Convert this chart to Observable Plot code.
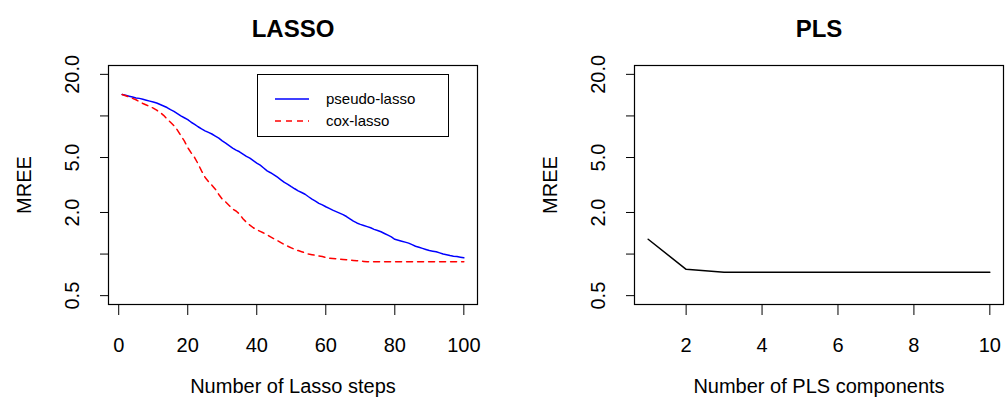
<!DOCTYPE html>
<html><head><meta charset="utf-8">
<script src="https://cdn.jsdelivr.net/npm/d3@7"></script>
<script src="https://cdn.jsdelivr.net/npm/@observablehq/plot@0.6"></script>
<style>
body{margin:0;background:#fff;font-family:"Liberation Sans",Arial,Helvetica,sans-serif;}
#wrap{position:relative;width:1005px;height:410px;overflow:hidden;background:#fff;}
#left,#right{position:absolute;top:0;}
#left{left:0;} #right{left:502px;}
#legend{position:absolute;left:257px;top:74px;width:190px;height:61px;border:1px solid #000;background:#fff;}
svg{font-family:"Liberation Sans",Arial,Helvetica,sans-serif;}
</style></head><body>
<div id="wrap"><div id="left"></div><div id="right"></div><div id="legend"></div></div>
<script>
// ---- data ----
const lassoSteps = Array.from({length: 100}, (_, i) => i + 1);
const pseudoLasso = [
  14.3,14.1,13.9,13.7,13.5,13.4,13.2,13.0,12.8,12.6,
  12.4,12.1,11.8,11.5,11.1,10.8,10.4,10.0,9.7,9.4,
  9.0,8.7,8.35,8.05,7.8,7.6,7.4,7.15,6.9,6.6,
  6.35,6.1,5.85,5.65,5.5,5.3,5.1,4.95,4.75,4.55,
  4.4,4.2,4.0,3.88,3.75,3.6,3.45,3.3,3.2,3.08,
  2.97,2.87,2.79,2.71,2.6,2.5,2.42,2.33,2.27,2.2,
  2.14,2.08,2.03,1.98,1.93,1.87,1.8,1.73,1.68,1.64,
  1.61,1.58,1.55,1.51,1.48,1.45,1.41,1.37,1.33,1.28,
  1.26,1.24,1.22,1.2,1.17,1.14,1.12,1.1,1.08,1.06,
  1.05,1.04,1.02,1.0,0.99,0.975,0.965,0.96,0.95,0.94
];
const coxLasso = [
  14.3,14.0,13.7,13.4,13.1,12.7,12.3,12.0,11.7,11.4,
  11.0,10.6,10.1,9.5,9.0,8.5,7.9,7.2,6.6,5.9,
  5.4,5.0,4.5,4.0,3.6,3.35,3.15,2.95,2.7,2.5,
  2.38,2.25,2.12,2.05,1.95,1.8,1.7,1.62,1.55,1.5,
  1.46,1.42,1.38,1.33,1.29,1.25,1.21,1.17,1.14,1.11,
  1.08,1.06,1.04,1.02,1.0,0.99,0.98,0.97,0.96,0.945,
  0.935,0.93,0.925,0.92,0.915,0.91,0.905,0.9,0.895,0.89,
  0.885,0.88,0.88,0.88,0.88,0.88,0.88,0.88,0.88,0.88,
  0.88,0.88,0.88,0.88,0.88,0.88,0.88,0.88,0.88,0.88,
  0.88,0.88,0.88,0.88,0.88,0.88,0.88,0.88,0.88,0.88
];
const plsComponents = [1,2,3,4,5,6,7,8,9,10];
const plsMree = [1.28,0.775,0.74,0.737,0.737,0.737,0.737,0.737,0.737,0.737];

const lassoXTicks = [0,20,40,60,80,100];
const plsXTicks = [2,4,6,8,10];
const yTicks = [0.5,1,2,5,10,20];
const yTickLabels = ["0.5","","2.0","5.0","","20.0"];
const seriesNames = ["pseudo-lasso","cox-lasso"];
const seriesColors = ["blue","red"];
const titles = ["LASSO","PLS"];
const xTitles = ["Number of Lasso steps","Number of PLS components"];
const yTitle = "MREE";

// R-style 4% axis extension
function extend(lo, hi) { const r = hi - lo; return [lo - 0.04*r, hi + 0.04*r]; }
const ylog = extend(Math.log10(0.5), Math.log10(20));
const yDomain = [10**ylog[0], 10**ylog[1]];

const lassoData = lassoSteps.flatMap((s, i) => [
  {step: s, mree: pseudoLasso[i], series: seriesNames[0]},
  {step: s, mree: coxLasso[i], series: seriesNames[1]}
]);
const plsData = plsComponents.map((c, i) => ({comp: c, mree: plsMree[i]}));

function commonMarks(xTicks, title, xTitle) {
  return [
    Plot.axisX({ticks: xTicks, tickSize: 11, tickPadding: 22, fontSize: 20, label: null, stroke: "black"}),
    Plot.axisY({ticks: yTicks, tickSize: 8, tickFormat: () => "", label: null}),
    Plot.text(yTicks, {y: d => d, text: (d, i) => yTickLabels[i], frameAnchor: "left", dx: -36, rotate: -90, textAnchor: "middle", fontSize: 20, fill: "black"}),
    Plot.text([yTitle], {frameAnchor: "left", dx: -84, rotate: -90, textAnchor: "middle", fontSize: 20, fill: "black"}),
    Plot.text([xTitle], {frameAnchor: "bottom", dy: 88, fontSize: 20, fill: "black"}),
    Plot.text([title], {frameAnchor: "top", dy: -46, fontSize: 24, fontWeight: "bold", fill: "black"}),
    Plot.frame({stroke: "black", strokeWidth: 1.2})
  ];
}

const left = Plot.plot({
  width: 502, height: 410,
  marginTop: 65, marginBottom: 106, marginLeft: 108, marginRight: 25,
  style: {background: "white", color: "black", fontSize: "20px"},
  x: {domain: extend(1, 100)},
  y: {type: "log", domain: yDomain},
  marks: [
    Plot.line(lassoData.filter(d => d.series === seriesNames[0]), {x: "step", y: "mree", stroke: seriesColors[0], strokeWidth: 1.5}),
    Plot.line(lassoData.filter(d => d.series === seriesNames[1]), {x: "step", y: "mree", stroke: seriesColors[1], strokeWidth: 1.5, strokeDasharray: "6,5"}),
    ...commonMarks(lassoXTicks, titles[0], xTitles[0])
  ]
});
document.getElementById("left").append(left);

const right = Plot.plot({
  width: 503, height: 410,
  marginTop: 65, marginBottom: 106, marginLeft: 132, marginRight: 2,
  style: {background: "white", color: "black", fontSize: "20px"},
  x: {domain: extend(1, 10)},
  y: {type: "log", domain: yDomain},
  marks: [
    Plot.line(plsData, {x: "comp", y: "mree", stroke: "black", strokeWidth: 1.5}),
    ...commonMarks(plsXTicks, titles[1], xTitles[1])
  ]
});
document.getElementById("right").append(right);

// legend
const lg = d3.select("#legend").append("svg").attr("width", 190).attr("height", 61);
seriesNames.forEach((name, i) => {
  const y = 24 + i * 22;
  lg.append("line").attr("x1", 17).attr("x2", 51).attr("y1", y).attr("y2", y)
    .attr("stroke", seriesColors[i]).attr("stroke-width", 1.5)
    .attr("stroke-dasharray", i === 1 ? "6,5" : null);
  lg.append("text").attr("x", 68).attr("y", y).attr("dy", "0.35em")
    .attr("font-size", 15).attr("fill", "black").text(name);
});
</script>
</body></html>
